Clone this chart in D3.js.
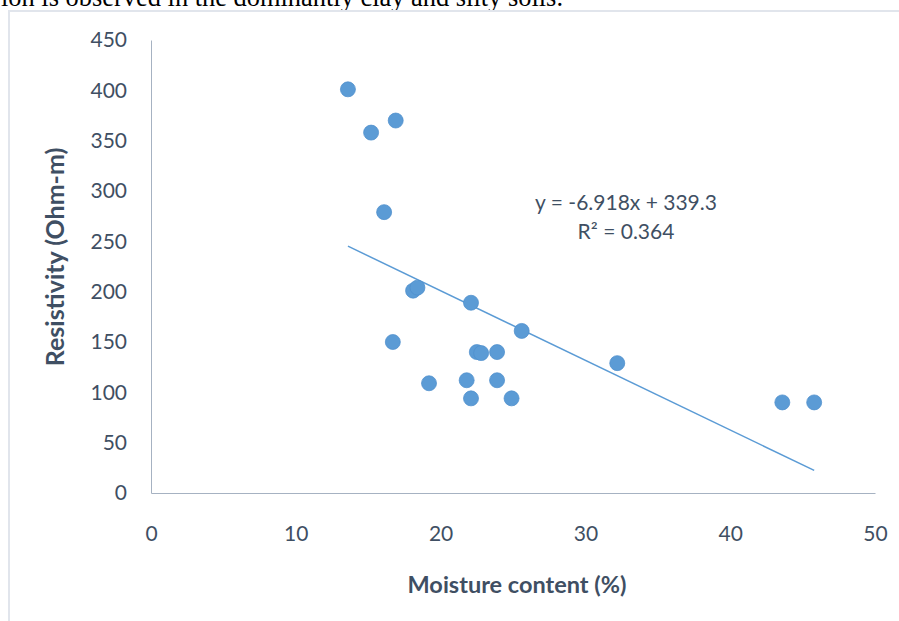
<!DOCTYPE html>
<html>
<head>
<meta charset="utf-8">
<script src="https://cdn.jsdelivr.net/npm/d3@7"></script>
<style>
  html, body { margin: 0; padding: 0; background: #fff; }
  svg { display: block; }
</style>
</head>
<body>
<div id="chart"></div>
<script>
// moisture content (%) vs resistivity (Ohm-m)
const moisture    = [13.6, 15.2, 16.9, 16.1, 18.1, 18.4, 16.7, 19.2, 22.1, 22.5, 22.8, 23.9, 21.8, 23.9, 22.1, 24.9, 25.6, 32.2, 43.6, 45.8];
const resistivity = [401, 358, 370, 279, 201, 204, 150, 109, 189, 140, 139, 140, 112, 112, 94, 94, 161, 129, 90, 90];

const xTicks = [0, 10, 20, 30, 40, 50];
const yTicks = [0, 50, 100, 150, 200, 250, 300, 350, 400, 450];

// trendline as printed on the chart
const slope = -6.918;
const intercept = 339.3;
const eqLines = ["y = -6.918x + 339.3", "R² = 0.364"];

const width = 899, height = 621;
const margin = {left: 151, right: 24, top: 40, bottom: 128};
const textColor = "#3f4f63";
const dotColor = "#5b9bd5";
const font = "Lato, 'Noto Sans', sans-serif";

const svg = d3.select("#chart").append("svg")
  .attr("width", width)
  .attr("height", height);

// bit of the page text above the figure, cut off at the top
svg.append("text")
  .attr("x", 1).attr("y", 6)
  .attr("textLength", 562)
  .attr("lengthAdjust", "spacingAndGlyphs")
  .attr("font-family", "'Liberation Serif', 'Times New Roman', serif")
  .attr("font-size", 27)
  .attr("fill", "#000")
  .text("ion is observed in the dominantly clay and silty soils.");

// figure frame
svg.append("path")
  .attr("d", `M9,${height} L9,11 L${width},11`)
  .attr("fill", "none")
  .attr("stroke", "#e1e5ec")
  .attr("stroke-width", 2);

const x = d3.scaleLinear().domain([0, 50]).range([margin.left, width - margin.right]);
const y = d3.scaleLinear().domain([0, 450]).range([height - margin.bottom, height - margin.bottom - 453]);

// axes (no tick marks, labels only)
const xAxis = svg.append("g")
  .attr("transform", `translate(0,${y(0)})`)
  .call(d3.axisBottom(x).tickValues(xTicks).tickSize(0).tickPadding(33));
xAxis.select(".domain").attr("stroke", "#a6b2c2").attr("stroke-width", 1);
xAxis.selectAll("text")
  .attr("font-family", font).attr("font-size", 21).attr("fill", textColor);

const yAxis = svg.append("g")
  .attr("transform", `translate(${x(0)},0)`)
  .call(d3.axisLeft(y).tickValues(yTicks).tickSize(0).tickPadding(24));
yAxis.select(".domain").attr("stroke", "#a6b2c2").attr("stroke-width", 1);
yAxis.selectAll("text")
  .attr("font-family", font).attr("font-size", 21).attr("fill", textColor);

// axis titles
svg.append("text")
  .attr("x", 517).attr("y", 593)
  .attr("text-anchor", "middle")
  .attr("font-family", font).attr("font-size", 23.5).attr("font-weight", "bold")
  .attr("fill", textColor)
  .text("Moisture content (%)");

svg.append("text")
  .attr("transform", "translate(64,257) rotate(-90)")
  .attr("text-anchor", "middle")
  .attr("font-family", font).attr("font-size", 25).attr("font-weight", "bold")
  .attr("fill", textColor)
  .text("Resistivity (Ohm-m)");

// linear trendline across the data range
const xExt = d3.extent(moisture);
svg.append("line")
  .attr("x1", x(xExt[0])).attr("y1", y(slope * xExt[0] + intercept))
  .attr("x2", x(xExt[1])).attr("y2", y(slope * xExt[1] + intercept))
  .attr("stroke", dotColor)
  .attr("stroke-width", 1.5);

// points
const pts = moisture.map((m, i) => ({m: m, r: resistivity[i]}));
svg.append("g").selectAll("circle")
  .data(pts)
  .join("circle")
    .attr("cx", d => x(d.m))
    .attr("cy", d => y(d.r))
    .attr("r", 7.5)
    .attr("fill", dotColor)
    .attr("stroke", "#4f8fcc")
    .attr("stroke-width", 0.75);

// equation label
svg.append("text")
  .attr("font-family", font).attr("font-size", 21).attr("fill", textColor)
  .attr("text-anchor", "middle")
  .selectAll("tspan")
  .data(eqLines)
  .join("tspan")
    .attr("x", 626)
    .attr("y", (d, i) => 210 + i * 29)
    .text(d => d);
</script>
</body>
</html>
